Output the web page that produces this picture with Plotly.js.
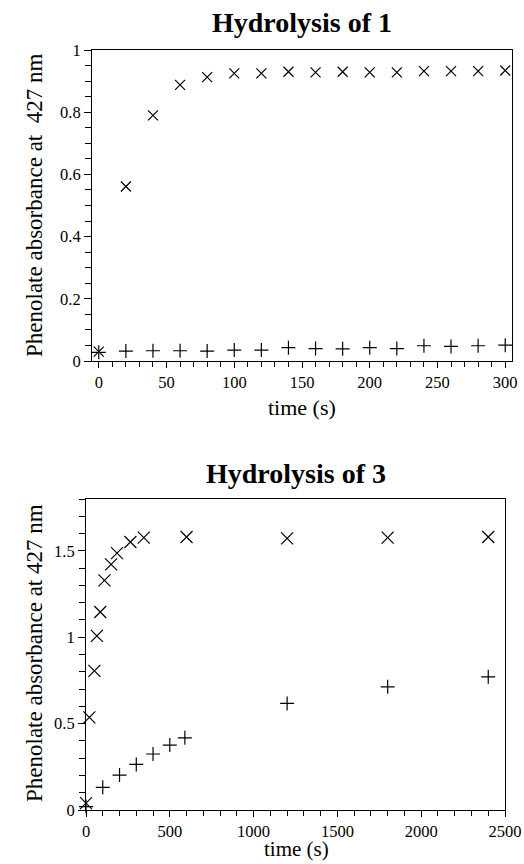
<!DOCTYPE html>
<html>
<head>
<meta charset="utf-8">
<script src="https://cdn.plot.ly/plotly-3.0.1.min.js"></script>
<style>
  html, body { margin: 0; padding: 0; background: #fff; }
  #chart { width: 524px; height: 864px; }
</style>
</head>
<body>
<div id="chart"></div>
<script>
// ---- Data: Hydrolysis of 1 ----
const time1 = [0, 20, 40, 60, 80, 100, 120, 140, 160, 180, 200, 220, 240, 260, 280, 300];
const cross1 = [0.03, 0.561, 0.79, 0.888, 0.913, 0.925, 0.925, 0.93, 0.928, 0.93, 0.928, 0.928, 0.932, 0.932, 0.932, 0.934];
const plus1 = [0.028, 0.032, 0.033, 0.033, 0.032, 0.035, 0.035, 0.043, 0.040, 0.039, 0.043, 0.040, 0.049, 0.047, 0.049, 0.051];

// ---- Data: Hydrolysis of 3 ----
const time3x = [0, 20, 50, 65, 85, 110, 150, 185, 265, 345, 600, 1200, 1800, 2400];
const cross3 = [0.04, 0.536, 0.805, 1.008, 1.146, 1.329, 1.422, 1.487, 1.551, 1.576, 1.58, 1.572, 1.576, 1.58];
const time3p = [0, 100, 200, 300, 400, 500, 590, 1200, 1800, 2400];
const plus3 = [0.02, 0.131, 0.202, 0.264, 0.324, 0.376, 0.418, 0.617, 0.713, 0.771];

const titles = ["Hydrolysis of 1", "Hydrolysis of 3"];
const yLabels = ["Phenolate absorbance at  427 nm", "Phenolate absorbance at 427 nm"];
const xLabel = "time (s)";

const serif = "Liberation Serif, Times New Roman, serif";

function mk(x, y, sym, size, xa, ya) {
  return {
    x: x, y: y, type: "scatter", mode: "markers", xaxis: xa, yaxis: ya,
    cliponaxis: false, showlegend: false, hoverinfo: "x+y",
    marker: { symbol: sym, size: size, color: "#000", line: { color: "#000", width: 1.2 } }
  };
}

const data = [
  mk(time1, cross1, "x-thin-open", 10, "x", "y"),
  mk(time1, plus1, "cross-thin-open", 10, "x", "y"),
  mk(time3x, cross3, "x-thin-open", 12, "x2", "y2"),
  mk(time3p, plus3, "cross-thin-open", 10, "x2", "y2")
];

const tickFont = { family: serif, size: 16.5, color: "#000" };

function xAxis(domain, range, dtick, minor, anchor) {
  return {
    domain: domain, range: range, anchor: anchor, dtick: dtick, tick0: 0,
    showgrid: false, zeroline: false, showline: true, mirror: true,
    linecolor: "#000", linewidth: 1, ticks: "outside", ticklen: 6, tickwidth: 1,
    tickcolor: "#000", tickfont: tickFont,
    minor: { dtick: minor, tick0: 0, ticks: "outside", ticklen: 5, tickwidth: 1, tickcolor: "#000", showgrid: false }
  };
}
function yAxis(domain, range, dtick, minor, anchor) {
  return {
    domain: domain, range: range, anchor: anchor, dtick: dtick, tick0: 0,
    showgrid: false, zeroline: false, showline: true, mirror: true,
    linecolor: "#000", linewidth: 1, ticks: "outside", ticklen: 7, tickwidth: 1,
    tickcolor: "#000", tickfont: tickFont,
    minor: { dtick: minor, tick0: 0, ticks: "outside", ticklen: 6, tickwidth: 1, tickcolor: "#000", showgrid: false }
  };
}

const W = 524, H = 864;
const layout = {
  width: W, height: H,
  margin: { l: 0, r: 0, t: 0, b: 0 },
  paper_bgcolor: "#fff", plot_bgcolor: "#fff",
  showlegend: false,
  xaxis: xAxis([92 / W, 512 / W], [-5, 305], 50, 10, "y"),
  yaxis: yAxis([1 - 361 / H, 1 - 50 / H], [0, 1], 0.2, 0.05, "x"),
  xaxis2: xAxis([86 / W, 505 / W], [0, 2500], 500, 100, "y2"),
  yaxis2: yAxis([1 - 810 / H, 1 - 499 / H], [0, 1.8], 0.5, 0.1, "x2"),
  annotations: [
    { text: "<b>" + titles[0] + "</b>", xref: "paper", yref: "paper", x: 302 / W, y: 1 - 23 / H,
      showarrow: false, xanchor: "center", yanchor: "middle", font: { family: serif, size: 28, color: "#000" } },
    { text: "<b>" + titles[1] + "</b>", xref: "paper", yref: "paper", x: 296 / W, y: 1 - 473 / H,
      showarrow: false, xanchor: "center", yanchor: "middle", font: { family: serif, size: 28, color: "#000" } },
    { text: yLabels[0], xref: "paper", yref: "paper", x: 34 / W, y: 1 - 206 / H, textangle: -90,
      showarrow: false, xanchor: "center", yanchor: "middle", font: { family: serif, size: 23, color: "#000" } },
    { text: yLabels[1], xref: "paper", yref: "paper", x: 34 / W, y: 1 - 653 / H, textangle: -90,
      showarrow: false, xanchor: "center", yanchor: "middle", font: { family: serif, size: 23, color: "#000" } },
    { text: xLabel, xref: "paper", yref: "paper", x: 302 / W, y: 1 - 407 / H,
      showarrow: false, xanchor: "center", yanchor: "middle", font: { family: serif, size: 22, color: "#000" } },
    { text: xLabel, xref: "paper", yref: "paper", x: 296 / W, y: 1 - 849 / H,
      showarrow: false, xanchor: "center", yanchor: "middle", font: { family: serif, size: 21, color: "#000" } }
  ]
};

Plotly.newPlot("chart", data, layout, { displayModeBar: false, staticPlot: true });
</script>
</body>
</html>
